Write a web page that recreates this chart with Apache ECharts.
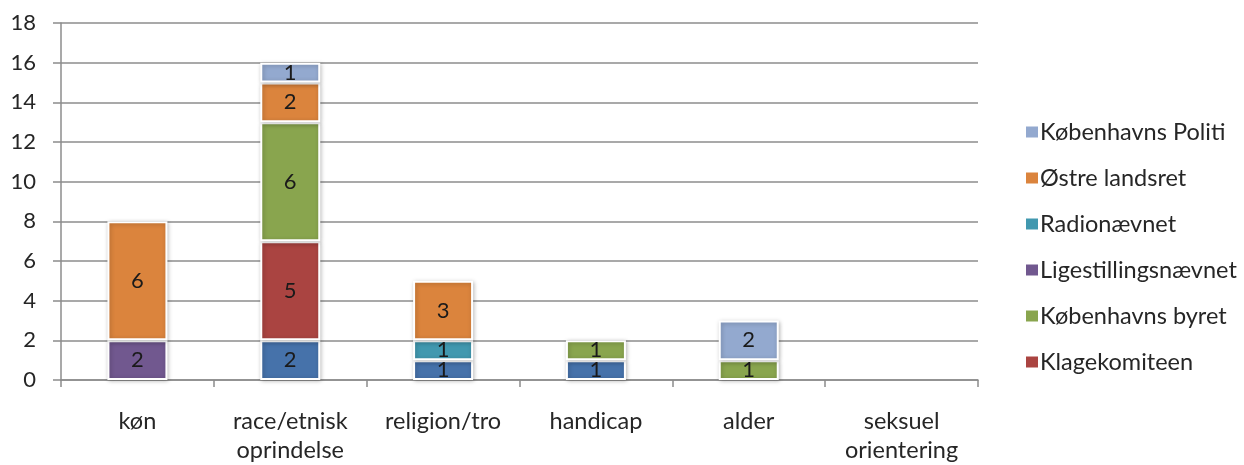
<!DOCTYPE html>
<html>
<head>
<meta charset="utf-8">
<script src="https://cdn.jsdelivr.net/npm/echarts@6/dist/echarts.min.js"></script>
<style>html,body{margin:0;padding:0;background:#fff;overflow:hidden}#c{width:1244px;height:465px}</style>
</head>
<body>
<div id="c"></div>
<script>
const categories = ['køn', 'race/etnisk\noprindelse', 'religion/tro', 'handicap', 'alder', 'seksuel\norientering'];
const yTicks = [0, 2, 4, 6, 8, 10, 12, 14, 16, 18];
// stacking order bottom -> top
const unnamedBlue = [null, 2, 1, 1, null, null];
const klagekomiteen = [null, 5, null, null, null, null];
const kbhByret = [null, 6, null, 1, 1, null];
const ligestilling = [2, null, null, null, null, null];
const radionaevnet = [null, null, 1, null, null, null];
const ostreLandsret = [6, 2, 3, null, null, null];
const kbhPoliti = [null, 1, null, null, 2, null];

const seriesDefs = [
  ['Ligebehandlingsnævnet', unnamedBlue, '#4672AA'],
  ['Klagekomiteen', klagekomiteen, '#AA4441'],
  ['Københavns byret', kbhByret, '#89A54E'],
  ['Ligestillingsnævnet', ligestilling, '#71588F'],
  ['Radionævnet', radionaevnet, '#4198AF'],
  ['Østre landsret', ostreLandsret, '#DB843D'],
  ['Københavns Politi', kbhPoliti, '#93A9CF']
];
const legendNames = ['Københavns Politi', 'Østre landsret', 'Radionævnet', 'Ligestillingsnævnet', 'Københavns byret', 'Klagekomiteen'];
const FONT = 'Lato, "Open Sans", sans-serif';

const chart = echarts.init(document.getElementById('c'), null, {renderer: 'canvas'});
chart.setOption({
  animation: false,
  textStyle: {fontFamily: FONT},
  grid: {left: 61, right: 266, top: 23, bottom: 72, containLabel: false},
  legend: {
    data: legendNames,
    orient: 'vertical',
    left: 1019,
    top: 115,
    itemWidth: 14,
    itemHeight: 13,
    itemGap: 22,
    icon: 'rect',
    textStyle: {fontSize: 23.5, lineHeight: 24, color: '#262626', fontFamily: FONT, padding: [0, 0, 0, -4]}
  },
  xAxis: {
    type: 'category',
    data: categories,
    axisLine: {lineStyle: {color: '#8c8c8c', width: 1.5}},
    axisTick: {show: true, length: 7, lineStyle: {color: '#8c8c8c', width: 1.5}},
    axisLabel: {fontSize: 23.5, color: '#262626', margin: 27, lineHeight: 29, interval: 0, fontFamily: FONT}
  },
  yAxis: {
    type: 'value',
    min: yTicks[0],
    max: yTicks[yTicks.length - 1],
    interval: 2,
    axisLine: {show: true, lineStyle: {color: '#8c8c8c', width: 1.5}},
    axisTick: {show: true, length: 8, lineStyle: {color: '#8c8c8c', width: 1.5}},
    axisLabel: {fontSize: 22, color: '#262626', margin: 25, fontFamily: FONT},
    splitLine: {lineStyle: {color: '#8c8c8c', width: 1.5}}
  },
  series: seriesDefs.map(([name, data, color]) => ({
    name: name,
    type: 'bar',
    stack: 'total',
    data: data,
    barWidth: 60,
    itemStyle: {
      color: color,
      borderColor: '#ffffff',
      borderWidth: 2,
      shadowBlur: 4,
      shadowColor: 'rgba(0,0,0,0.25)',
      shadowOffsetX: 1,
      shadowOffsetY: 1
    },
    label: {
      show: true,
      position: 'inside',
      fontSize: 22,
      color: '#1a1a1a',
      fontFamily: FONT,
      formatter: p => p.value == null ? '' : String(p.value)
    }
  }))
});
</script>
</body>
</html>
